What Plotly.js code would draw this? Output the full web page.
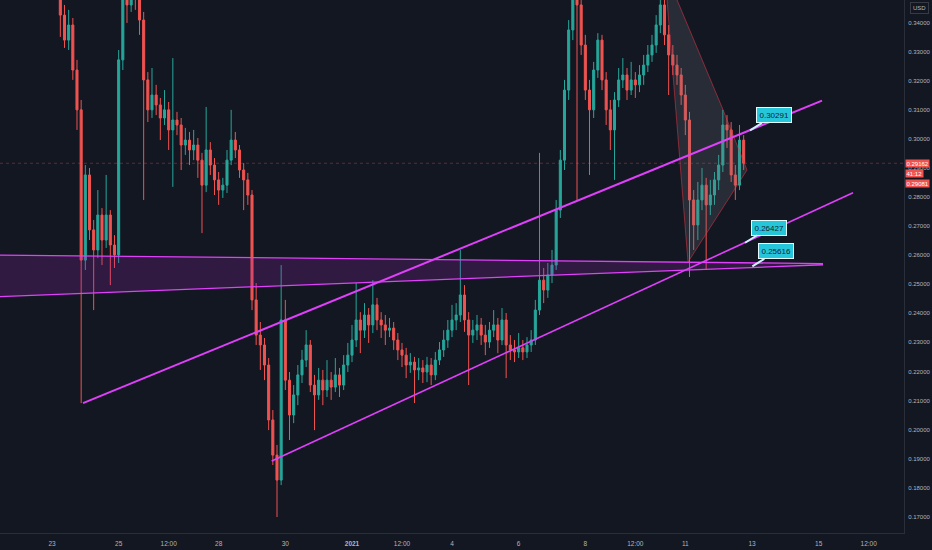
<!DOCTYPE html>
<html>
<head>
<meta charset="utf-8">
<script src="https://cdn.plot.ly/plotly-3.0.1.min.js"></script>
<style>
html,body{margin:0;padding:0;background:#131722;}
#chart{width:932px;height:550px;}
</style>
</head>
<body>
<div id="chart"></div>
<script>
// 3-hour candles starting 2020-12-23 06:00 (UTC)
const candleStart = '2020-12-23 06:00';
const candleStepHours = 3;

const openP = [0.3512,0.3426,0.3340,0.3392,0.3237,0.3100,0.2583,0.2876,0.2687,0.2618,
0.2738,0.2652,0.2738,0.2635,0.2601,0.3272,0.3547,0.3461,0.3581,0.3512,
0.3409,0.3203,0.3100,0.3151,0.3117,0.3072,0.3100,0.3031,0.3065,0.3048,
0.2979,0.2996,0.2962,0.2979,0.2927,0.2841,0.2962,0.2910,0.2859,0.2824,
0.2841,0.2927,0.2996,0.2962,0.2893,0.2859,0.2807,0.2446,0.2325,0.2291,
0.2222,0.2033,0.1912,0.1826,0.2377,0.2170,0.2050,0.2119,0.2188,0.2239,
0.2291,0.2153,0.2119,0.2170,0.2136,0.2170,0.2146,0.2188,0.2153,0.2222,
0.2256,0.2308,0.2377,0.2342,0.2394,0.2360,0.2429,0.2377,0.2360,0.2342,
0.2349,0.2308,0.2274,0.2256,0.2222,0.2232,0.2205,0.2212,0.2198,0.2222,
0.2188,0.2239,0.2274,0.2308,0.2342,0.2377,0.2394,0.2463,0.2377,0.2325,
0.2342,0.2360,0.2325,0.2301,0.2342,0.2360,0.2308,0.2377,0.2291,0.2274,
0.2267,0.2281,0.2267,0.2291,0.2308,0.2411,0.2514,0.2480,0.2532,0.2566,
0.2755,0.2927,0.3168,0.3375,0.3512,0.3461,0.3323,0.3168,0.3100,0.3237,
0.3340,0.3203,0.3100,0.3031,0.3134,0.3203,0.3220,0.3168,0.3203,0.3186,
0.3220,0.3254,0.3289,0.3323,0.3392,0.3461,0.3358,0.3289,0.3254,0.3220,
0.3151,0.3065,0.2790,0.2704,0.2790,0.2841,0.2773,0.2807,0.2859,0.2910,
0.3048,0.3031,0.2876,0.2841,0.2996];

const highP = [0.3616,0.3461,0.3444,0.3416,0.3272,0.3134,0.2910,0.2900,0.2721,0.2824,
0.2762,0.2876,0.2755,0.2669,0.3306,0.3609,0.3574,0.3616,0.3609,0.3540,
0.3437,0.3230,0.3244,0.3186,0.3141,0.3168,0.3127,0.3278,0.3093,0.3072,
0.3038,0.3024,0.3031,0.3003,0.2952,0.3110,0.2989,0.2934,0.2886,0.2866,
0.2962,0.3100,0.3024,0.2979,0.2917,0.2883,0.2824,0.2504,0.2370,0.2315,
0.2246,0.2067,0.1947,0.2566,0.2446,0.2198,0.2153,0.2222,0.2274,0.2342,
0.2308,0.2188,0.2212,0.2205,0.2239,0.2198,0.2246,0.2212,0.2256,0.2298,
0.2360,0.2504,0.2404,0.2435,0.2418,0.2514,0.2453,0.2404,0.2394,0.2384,
0.2370,0.2332,0.2298,0.2281,0.2263,0.2250,0.2246,0.2239,0.2250,0.2246,
0.2267,0.2301,0.2342,0.2377,0.2429,0.2435,0.2618,0.2497,0.2404,0.2377,
0.2394,0.2384,0.2360,0.2370,0.2411,0.2384,0.2418,0.2401,0.2325,0.2308,
0.2332,0.2308,0.2318,0.2342,0.2446,0.2952,0.2556,0.2573,0.2618,0.2790,
0.2962,0.3203,0.3409,0.3574,0.3581,0.3495,0.3358,0.3203,0.3265,0.3364,
0.3358,0.3230,0.3134,0.3161,0.3244,0.3278,0.3244,0.3265,0.3230,0.3254,
0.3289,0.3323,0.3358,0.3426,0.3581,0.3495,0.3392,0.3323,0.3289,0.3244,
0.3186,0.3093,0.2824,0.2852,0.2900,0.2866,0.2859,0.2886,0.2945,0.3100,
0.3082,0.3058,0.2910,0.3048,0.3013];

const lowP = [0.3351,0.3313,0.3306,0.3203,0.3031,0.2091,0.2549,0.2652,0.2411,0.2590,
0.2566,0.2625,0.2497,0.2556,0.2573,0.3237,0.3399,0.3437,0.3444,0.3358,
0.2790,0.3058,0.3072,0.3082,0.2996,0.3048,0.2962,0.2835,0.3013,0.2893,
0.2945,0.2910,0.2927,0.2866,0.2676,0.2817,0.2876,0.2807,0.2773,0.2797,
0.2814,0.2910,0.2934,0.2866,0.2755,0.2773,0.2411,0.2291,0.2205,0.2170,
0.1998,0.1878,0.1699,0.1809,0.2136,0.1964,0.2022,0.2084,0.2160,0.2215,
0.2129,0.1998,0.2102,0.2084,0.2112,0.2102,0.2129,0.2112,0.2136,0.2198,
0.2232,0.2284,0.2263,0.2315,0.2298,0.2332,0.2342,0.2315,0.2291,0.2318,
0.2274,0.2239,0.2215,0.2177,0.2195,0.2091,0.2170,0.2160,0.2163,0.2153,
0.2170,0.2222,0.2250,0.2281,0.2318,0.2342,0.2370,0.2336,0.2153,0.2298,
0.2308,0.2291,0.2256,0.2281,0.2318,0.2263,0.2291,0.2177,0.2239,0.2232,
0.2246,0.2239,0.2246,0.2267,0.2291,0.2394,0.2435,0.2453,0.2504,0.2549,
0.2728,0.2893,0.3134,0.3340,0.2790,0.3289,0.3134,0.2876,0.3072,0.3210,
0.3168,0.3048,0.2962,0.2859,0.3110,0.3175,0.3134,0.3151,0.3141,0.3161,
0.3186,0.3230,0.3265,0.3296,0.3364,0.3323,0.3151,0.3220,0.3186,0.3117,
0.3013,0.2525,0.2618,0.2652,0.2755,0.2549,0.2738,0.2773,0.2824,0.2886,
0.2969,0.2852,0.2790,0.2824,0.2893];

const closeP = [0.3426,0.3340,0.3392,0.3237,0.3100,0.2583,0.2876,0.2687,0.2618,0.2738,
0.2652,0.2738,0.2635,0.2601,0.3272,0.3547,0.3461,0.3581,0.3512,0.3409,
0.3203,0.3100,0.3151,0.3117,0.3072,0.3100,0.3031,0.3065,0.3048,0.2979,
0.2996,0.2962,0.2979,0.2927,0.2841,0.2962,0.2910,0.2859,0.2824,0.2841,
0.2927,0.2996,0.2962,0.2893,0.2859,0.2807,0.2446,0.2325,0.2291,0.2222,
0.2033,0.1912,0.1826,0.2377,0.2170,0.2050,0.2119,0.2188,0.2239,0.2291,
0.2153,0.2119,0.2170,0.2136,0.2170,0.2146,0.2188,0.2153,0.2222,0.2256,
0.2308,0.2377,0.2342,0.2394,0.2360,0.2429,0.2377,0.2360,0.2342,0.2349,
0.2308,0.2274,0.2256,0.2222,0.2232,0.2205,0.2212,0.2198,0.2222,0.2188,
0.2239,0.2274,0.2308,0.2342,0.2377,0.2394,0.2463,0.2377,0.2325,0.2342,
0.2360,0.2325,0.2301,0.2342,0.2360,0.2308,0.2377,0.2291,0.2274,0.2267,
0.2281,0.2267,0.2291,0.2308,0.2411,0.2514,0.2480,0.2532,0.2566,0.2755,
0.2927,0.3168,0.3375,0.3512,0.3461,0.3323,0.3168,0.3100,0.3237,0.3340,
0.3203,0.3100,0.3031,0.3134,0.3203,0.3220,0.3168,0.3203,0.3186,0.3220,
0.3254,0.3289,0.3323,0.3392,0.3461,0.3358,0.3289,0.3254,0.3220,0.3151,
0.3065,0.2790,0.2704,0.2790,0.2841,0.2773,0.2807,0.2859,0.2910,0.3048,
0.3031,0.2876,0.2841,0.2996,0.29162];

// drawings
const channelUpX = ['2020-12-23 22:19', '2021-01-15 02:24'];
const channelUpY = [0.2091, 0.3132];
const channelLowX = ['2020-12-29 14:10', '2021-01-16 00:43'];
const channelLowY = [0.1892, 0.2815];
const wedgeX = ['2020-12-20 00:00', '2021-01-15 03:07'];
const wedgeTop = [0.2602, 0.2571];
const wedgeBot = [0.2451, 0.2567];
const triX = ['2021-01-10 09:07', '2021-01-12 03:10', '2021-01-12 20:24', '2021-01-11 01:55', '2021-01-10 09:07'];
const triY = [0.3580, 0.3100, 0.2893, 0.2576, 0.3580];

const noteText = ['0.30291', '0.26427', '0.25616'];
const noteX = ['2021-01-12 22:34', '2021-01-12 19:00', '2021-01-13 00:14'];
const noteY = [0.30291, 0.26427, 0.25616];

const lastPrice = 0.29162;
const sidePrices = ['0.29162', '41:12', '0.29081'];

const tickVals = ['2020-12-23', '2020-12-25', '2020-12-26 12:00', '2020-12-28', '2020-12-30',
  '2021-01-01', '2021-01-02 12:00', '2021-01-04', '2021-01-06', '2021-01-08',
  '2021-01-09 12:00', '2021-01-11', '2021-01-13', '2021-01-15', '2021-01-16 12:00'];
const tickText = ['23', '25', '12:00', '28', '30', '<b>2021</b>', '12:00', '4', '6', '8',
  '12:00', '11', '13', '15', '12:00'];

// build candle timestamps
function fmt(d) { return d.toISOString().slice(0, 16).replace('T', ' '); }
const t0 = new Date(candleStart.replace(' ', 'T') + ':00Z').getTime();
const times = closeP.map((_, i) => fmt(new Date(t0 + i * candleStepHours * 3600e3)));

const magenta = '#e040fb';
const fontFam = 'Liberation Sans, Arial, sans-serif';

const traces = [
  {
    type: 'candlestick', x: times, open: openP, high: highP, low: lowP, close: closeP,
    increasing: { line: { color: '#26a69a', width: 1 }, fillcolor: '#26a69a' },
    decreasing: { line: { color: '#ef5350', width: 1 }, fillcolor: '#ef5350' },
    whiskerwidth: 0, hoverinfo: 'skip', showlegend: false
  },
  {
    type: 'scatter', mode: 'lines',
    x: wedgeX.concat(wedgeX.slice().reverse()),
    y: wedgeTop.concat(wedgeBot.slice().reverse()),
    fill: 'toself', fillcolor: 'rgba(156,39,176,0.22)', line: { width: 0 },
    hoverinfo: 'skip', showlegend: false
  },
  { type: 'scatter', mode: 'lines', x: wedgeX, y: wedgeTop, line: { color: magenta, width: 1.3 }, hoverinfo: 'skip', showlegend: false },
  { type: 'scatter', mode: 'lines', x: wedgeX, y: wedgeBot, line: { color: magenta, width: 1.3 }, hoverinfo: 'skip', showlegend: false },
  {
    type: 'scatter', mode: 'lines', x: triX, y: triY, fill: 'toself',
    fillcolor: 'rgba(120,123,134,0.22)', line: { color: 'rgba(242,54,69,0.5)', width: 1 },
    hoverinfo: 'skip', showlegend: false
  },
  { type: 'scatter', mode: 'lines', x: channelUpX, y: channelUpY, line: { color: magenta, width: 2 }, hoverinfo: 'skip', showlegend: false },
  { type: 'scatter', mode: 'lines', x: channelLowX, y: channelLowY, line: { color: magenta, width: 1.6 }, hoverinfo: 'skip', showlegend: false }
];

const annotations = noteText.map((t, i) => ({
  x: noteX[i], y: noteY[i], xref: 'x', yref: 'y', text: t,
  showarrow: true, arrowhead: 0, arrowwidth: 2, arrowcolor: '#c9f3f8',
  ax: 24, ay: -15, standoff: 0,
  bgcolor: '#26c6da', bordercolor: '#e6fbfd', borderwidth: 1, borderpad: 2.5,
  font: { family: fontFam, size: 8, color: '#10222e' }
}));

sidePrices.forEach((t, i) => {
  annotations.push({
    x: 1, xref: 'paper', xanchor: 'left', xshift: 1, y: lastPrice, yref: 'y', yshift: -i * 10,
    text: t, showarrow: false, bgcolor: '#ef5350', borderpad: 0.5,
    font: { family: fontFam, size: 6, color: '#ffffff' }
  });
});
annotations.push({
  x: 1.017, xref: 'paper', xanchor: 'center', y: 1, yref: 'paper', yanchor: 'top', yshift: -2,
  text: 'USD', showarrow: false, bordercolor: '#363a45', borderwidth: 1, borderpad: 2,
  font: { family: fontFam, size: 6, color: '#b2b5be' }
});

const layout = {
  width: 932, height: 550,
  paper_bgcolor: '#131722', plot_bgcolor: '#131722',
  margin: { l: 0, r: 28, t: 0, b: 17 },
  showlegend: false,
  font: { family: fontFam, color: '#b2b5be', size: 6 },
  xaxis: {
    type: 'date', range: ['2020-12-21 10:34', '2021-01-17 13:26'],
    rangeslider: { visible: false }, showgrid: false, zeroline: false,
    tickmode: 'array', tickvals: tickVals, ticktext: tickText,
    showline: true, linecolor: '#2a2e39', ticks: '', ticklabelstandoff: 4,
    tickfont: { family: fontFam, size: 6.5, color: '#b2b5be' }
  },
  yaxis: {
    side: 'right', range: [0.1644, 0.3478], dtick: 0.01, tick0: 0.17,
    tickformat: '.5f', showgrid: false, zeroline: false,
    showline: true, linecolor: '#2a2e39', ticks: '', ticklabelstandoff: 2,
    tickfont: { family: fontFam, size: 6, color: '#b2b5be' }
  },
  shapes: [{
    type: 'line', xref: 'paper', x0: 0, x1: 1, yref: 'y', y0: lastPrice, y1: lastPrice,
    line: { color: 'rgba(239,83,80,0.35)', width: 1, dash: 'dot' }, layer: 'below'
  }],
  annotations: annotations
};

Plotly.newPlot('chart', traces, layout, { staticPlot: true, displayModeBar: false });
</script>
</body>
</html>
